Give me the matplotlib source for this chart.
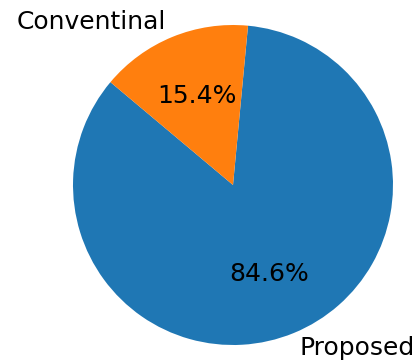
import matplotlib
matplotlib.use('Agg')
import matplotlib.pyplot as plt

labels = ['Proposed', 'Conventinal']
counts = [11, 2]

fig = plt.figure(figsize=(4.16, 3.62), dpi=100)
ax = fig.add_axes([33/416, -23/362, 400/416, 400/362])
ax.pie(counts, labels=labels, autopct='%1.1f%%', startangle=140,
       textprops={'fontsize': 18})
ax.set_xlim(-1.25, 1.25)
ax.set_ylim(-1.25, 1.25)
ax.set_aspect('equal')
fig.savefig('out.png', dpi=100)
